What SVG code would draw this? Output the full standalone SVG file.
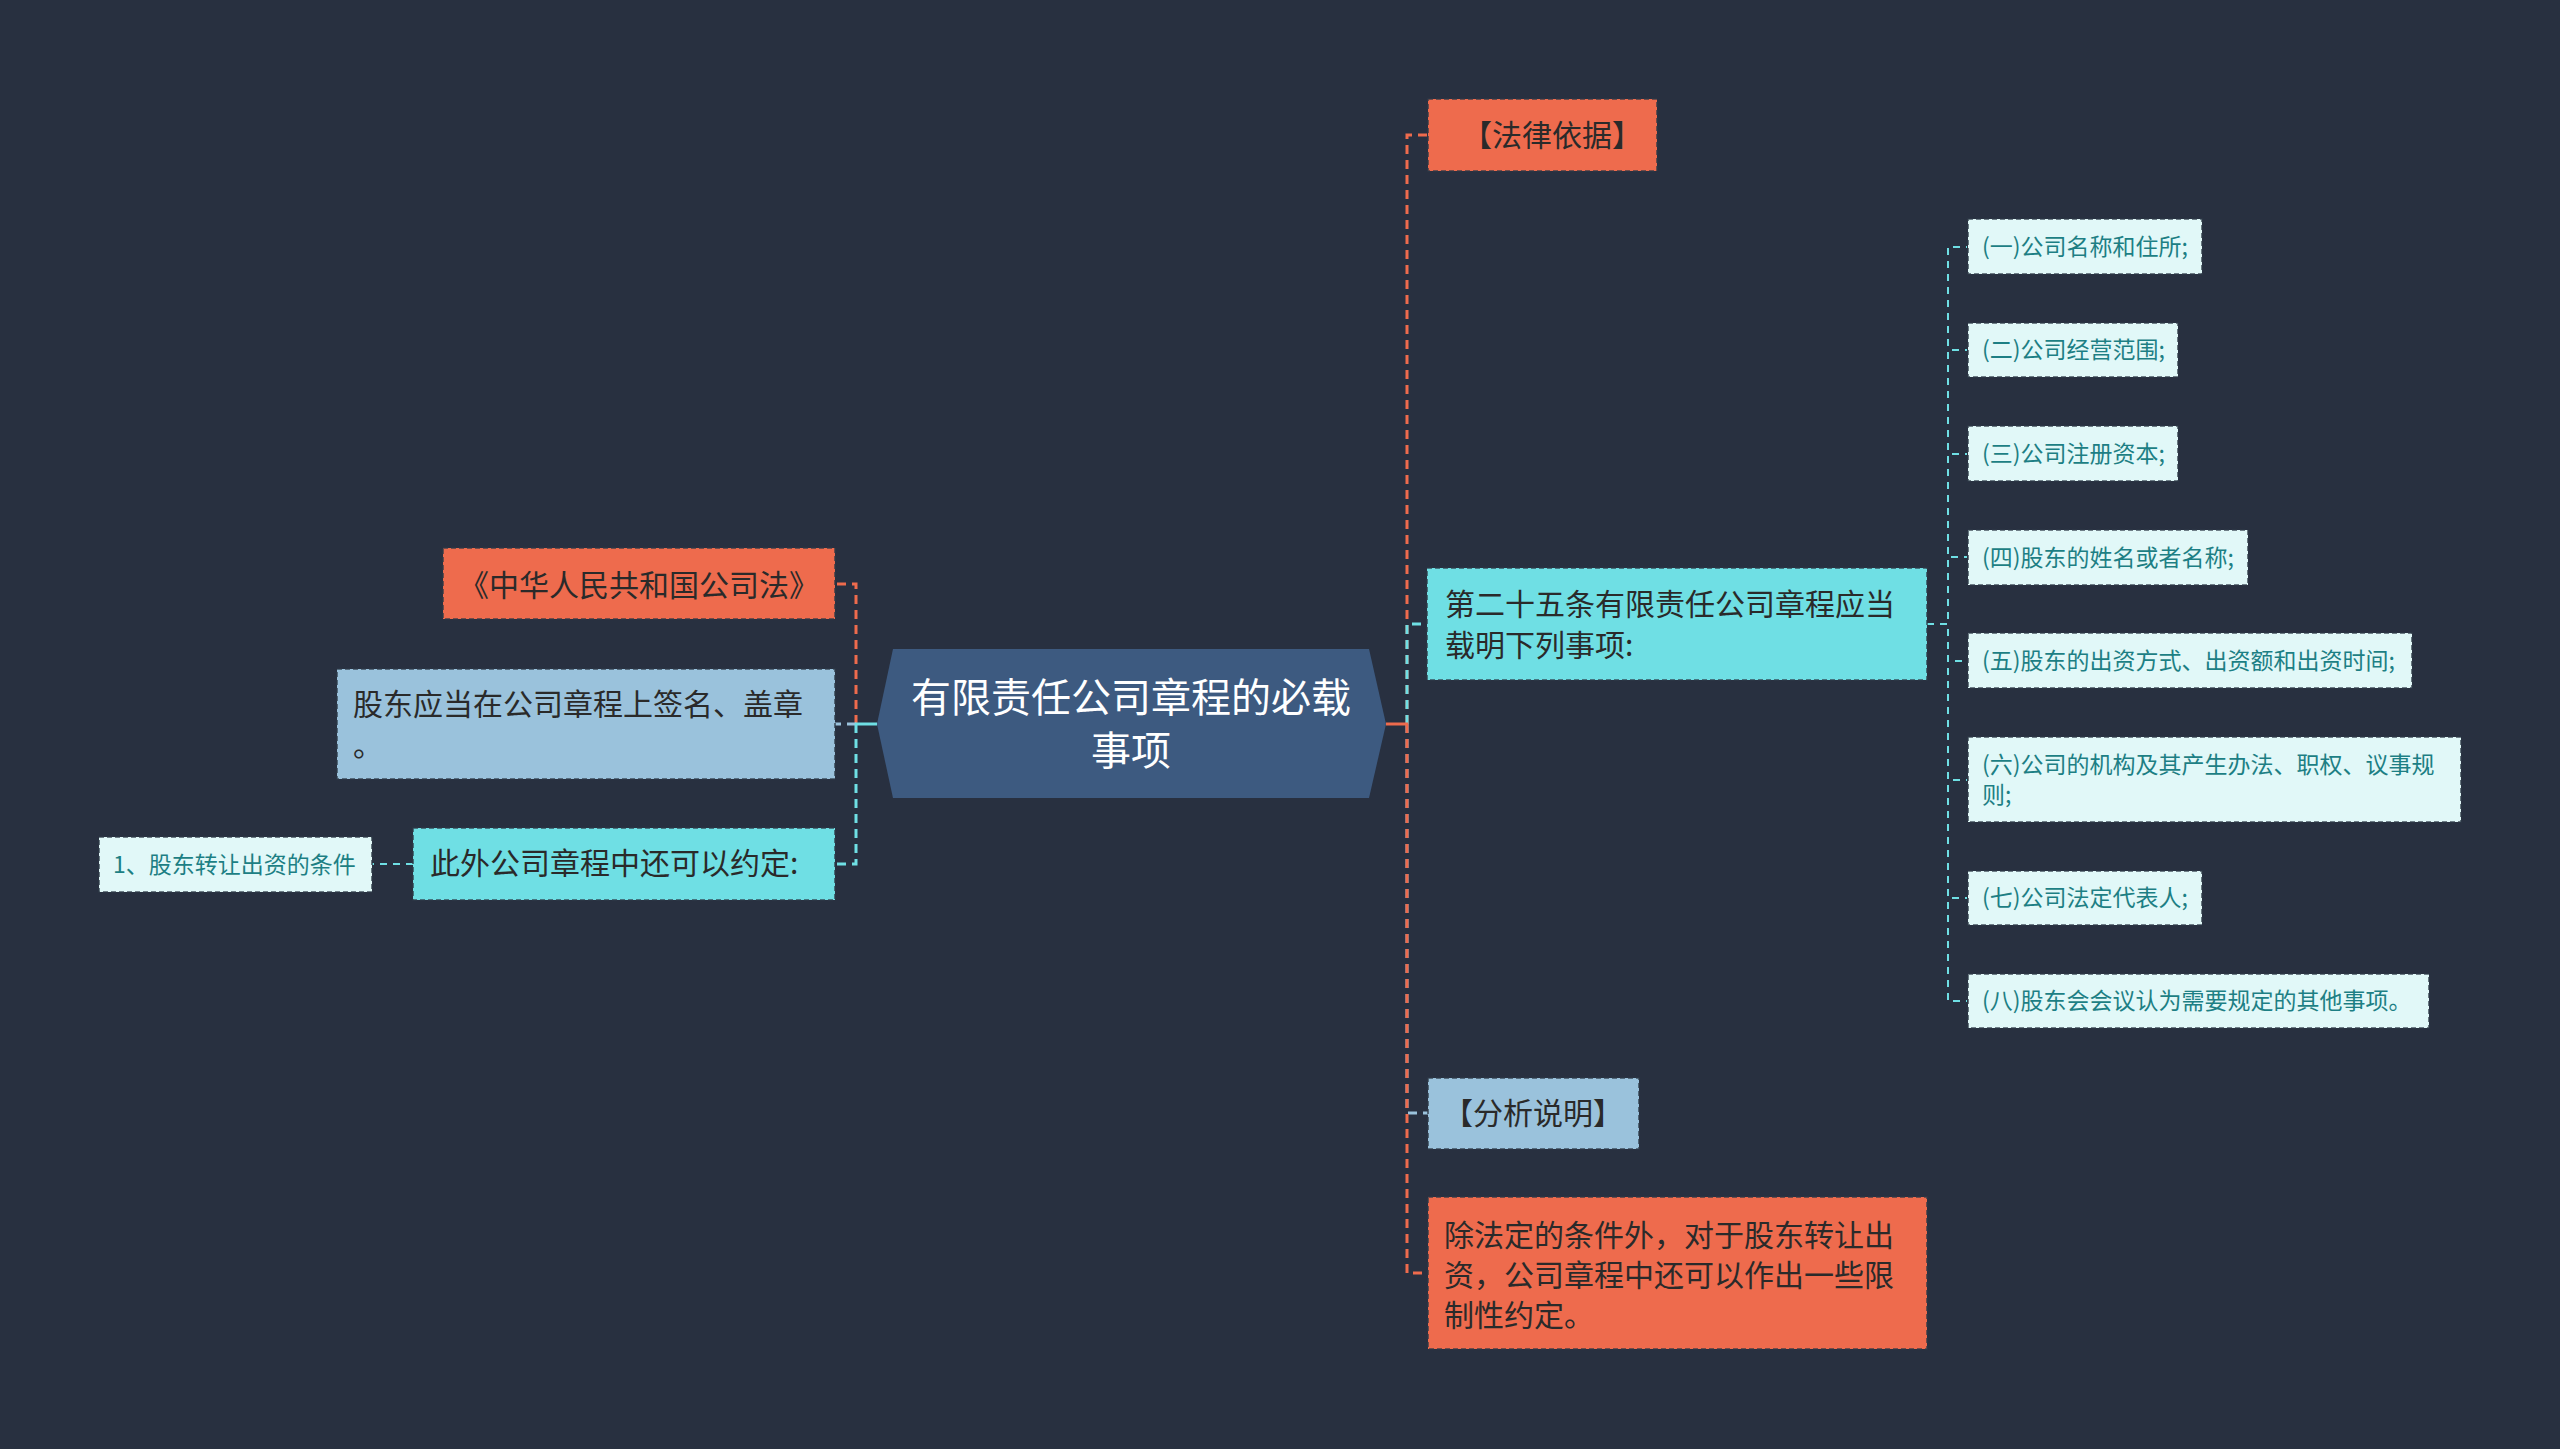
<svg xmlns="http://www.w3.org/2000/svg" width="2560" height="1449" viewBox="0 0 2560 1449">
<style>
text{font-family:"Noto Sans CJK SC","Noto Sans",sans-serif;}
.bd{stroke:#2e3946;stroke-opacity:.85;stroke-width:1.6;stroke-dasharray:5 3;}
.or{fill:#ee6b4d;}
.cy{fill:#6fdfe4;}
.lb{fill:#9ac2dc;}
.pl{fill:#e1f8f8;}
.t30{font-size:30px;fill:#2a2a2a;}
.t23{font-size:23px;fill:#1d7f84;}
.root{font-size:40px;fill:#ffffff;}
.c{fill:none;stroke-width:3;stroke-dasharray:9 6;}
.cs{fill:none;stroke-width:2;stroke-dasharray:7 6;}
.solid{fill:none;stroke-width:3;}
.o{stroke:#ee6b4d;}
.k{stroke:#6fdfe4;}
.b{stroke:#9ac2dc;}
</style>
<rect width="2560" height="1449" fill="#283040"/>
<g id="connectors">
  <!-- right side -->
  <path class="c o" d="M1407 724 V135 H1428"/>
  <path class="c k" d="M1407 724 V624 H1427"/>
  <path class="c b" d="M1407 724 V1113 H1428"/>
  <path class="c o" d="M1407 724 V1273 H1428"/>
  <path class="solid o" d="M1386 724 H1408"/>
  <!-- left side -->
  <path class="c o" d="M856 724 V584 H835"/>
  <path class="c b" d="M856 724 H835"/>
  <path class="c k" d="M856 724 V864 H835"/>
  <path class="solid k" d="M877 724 H855"/>
  <path class="cs k" d="M413 864 H372"/>
  <!-- sub items -->
  <path class="cs k" d="M1927 624 H1948 V247 H1967"/>
  <path class="cs k" d="M1927 624 H1948 V350 H1967"/>
  <path class="cs k" d="M1927 624 H1948 V454 H1967"/>
  <path class="cs k" d="M1927 624 H1948 V557 H1967"/>
  <path class="cs k" d="M1927 624 H1948 V661 H1967"/>
  <path class="cs k" d="M1927 624 H1948 V780 H1967"/>
  <path class="cs k" d="M1927 624 H1948 V898 H1967"/>
  <path class="cs k" d="M1927 624 H1948 V1001 H1967"/>
</g>
<g id="root">
  <polygon points="893,649 1369,649 1386,724 1369,798 893,798 877,724" fill="#3d5a80"/>
  <text class="root" x="1131" y="712" text-anchor="middle">有限责任公司章程的必载</text>
  <text class="root" x="1131" y="765" text-anchor="middle">事项</text>
</g>
<g id="n-falv">
  <rect class="or bd" x="1428" y="99" width="229" height="72"/>
  <text class="t30" x="1552" y="146" text-anchor="middle">【法律依据】</text>
</g>
<g id="n-art25">
  <rect class="cy bd" x="1427" y="568" width="500" height="112"/>
  <text class="t30" x="1445" y="615">第二十五条有限责任公司章程应当</text>
  <text class="t30" x="1445" y="656">载明下列事项:</text>
</g>
<g id="n-fenxi">
  <rect class="lb bd" x="1428" y="1078" width="211" height="71"/>
  <text class="t30" x="1533" y="1124" text-anchor="middle">【分析说明】</text>
</g>
<g id="n-chu">
  <rect class="or bd" x="1428" y="1197" width="499" height="152"/>
  <text class="t30" x="1444" y="1246">除法定的条件外，对于股东转让出</text>
  <text class="t30" x="1444" y="1286">资，公司章程中还可以作出一些限</text>
  <text class="t30" x="1444" y="1326">制性约定。</text>
</g>
<g id="n-law">
  <rect class="or bd" x="443" y="548" width="392" height="71"/>
  <text class="t30" x="639" y="596" text-anchor="middle">《中华人民共和国公司法》</text>
</g>
<g id="n-sign">
  <rect class="lb bd" x="337" y="669" width="498" height="110"/>
  <text class="t30" x="353" y="715">股东应当在公司章程上签名、盖章</text>
  <text class="t30" x="353" y="756">。</text>
</g>
<g id="n-also">
  <rect class="cy bd" x="413" y="828" width="422" height="72"/>
  <text class="t30" x="430" y="874">此外公司章程中还可以约定:</text>
</g>
<g id="n-cond">
  <rect class="pl bd" x="99" y="837" width="273" height="55"/>
  <text class="t23" x="113" y="873">1、股东转让出资的条件</text>
</g>
<g id="s1">
  <rect class="pl bd" x="1968" y="219" width="234" height="55"/>
  <text class="t23" x="1982" y="255">(一)公司名称和住所;</text>
</g>
<g id="s2">
  <rect class="pl bd" x="1968" y="323" width="210" height="54"/>
  <text class="t23" x="1982" y="358">(二)公司经营范围;</text>
</g>
<g id="s3">
  <rect class="pl bd" x="1968" y="426" width="210" height="55"/>
  <text class="t23" x="1982" y="462">(三)公司注册资本;</text>
</g>
<g id="s4">
  <rect class="pl bd" x="1968" y="530" width="280" height="55"/>
  <text class="t23" x="1982" y="566">(四)股东的姓名或者名称;</text>
</g>
<g id="s5">
  <rect class="pl bd" x="1968" y="633" width="444" height="55"/>
  <text class="t23" x="1982" y="669">(五)股东的出资方式、出资额和出资时间;</text>
</g>
<g id="s6">
  <rect class="pl bd" x="1968" y="737" width="493" height="85"/>
  <text class="t23" x="1982" y="773">(六)公司的机构及其产生办法、职权、议事规</text>
  <text class="t23" x="1982" y="803">则;</text>
</g>
<g id="s7">
  <rect class="pl bd" x="1968" y="871" width="234" height="54"/>
  <text class="t23" x="1982" y="906">(七)公司法定代表人;</text>
</g>
<g id="s8">
  <rect class="pl bd" x="1968" y="974" width="461" height="54"/>
  <text class="t23" x="1982" y="1009">(八)股东会会议认为需要规定的其他事项。</text>
</g>
</svg>
